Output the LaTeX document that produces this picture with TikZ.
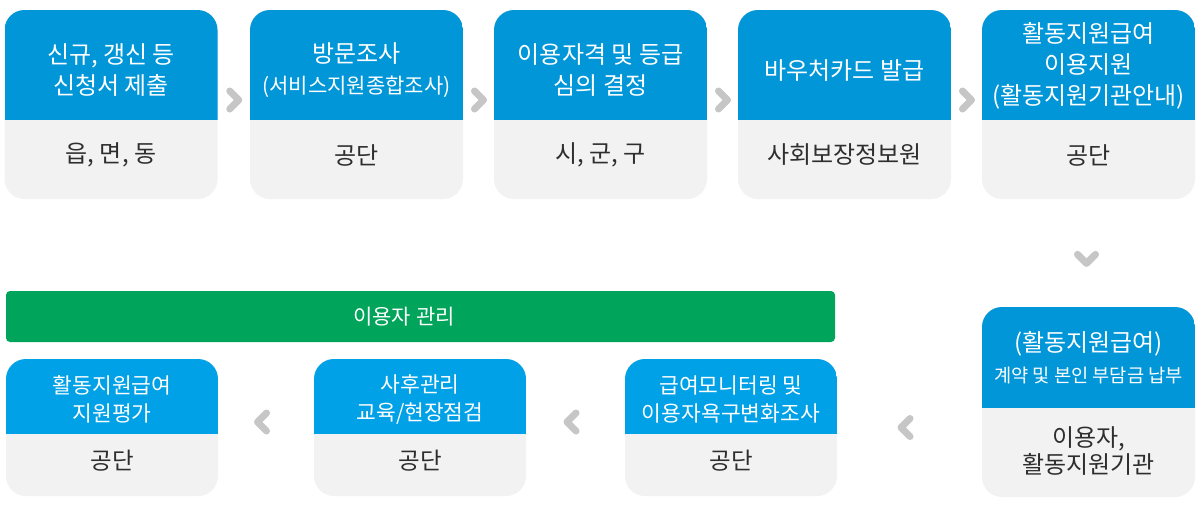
\documentclass[tikz,border=0pt]{standalone}
\usepackage{fontspec}
\setmainfont{Noto Sans CJK KR}
\usetikzlibrary{calc}
\definecolor{topblue}{HTML}{0096D8}
\definecolor{lowblue}{HTML}{00A1E6}
\definecolor{cardgray}{HTML}{F2F2F2}
\definecolor{txtdark}{HTML}{2E2E2E}
\definecolor{mgreen}{HTML}{00A45A}
\definecolor{chevgray}{HTML}{C6C6C6}
\tikzset{
  card/.style n args={3}{draw=none, fill=cardgray, rounded corners=20pt,
    minimum width=#1, minimum height=#2, inner sep=0pt,
    path picture={\fill[topblue, sharp corners] (path picture bounding box.north west) rectangle
      ([yshift=-#3]path picture bounding box.north east);}},
  lowcard/.style n args={3}{draw=none, fill=cardgray, rounded corners=20pt,
    minimum width=#1, minimum height=#2, inner sep=0pt,
    path picture={\fill[lowblue, sharp corners] (path picture bounding box.north west) rectangle
      ([yshift=-#3]path picture bounding box.north east);}},
  ttl/.style={text=white, align=center, inner sep=0pt, font=\fontsize{24}{31}\selectfont},
  lttl/.style={text=white, align=center, inner sep=0pt, font=\fontsize{21.5}{28}\selectfont},
  sub/.style={text=txtdark, align=center, inner sep=0pt, font=\fontsize{24}{27}\selectfont},
  chevline/.style={draw=chevgray, line width=7pt, line join=round, line cap=round},
  chevR/.pic={\draw[chevline] (-4,-9) -- (5,0) -- (-4,9);},
  chevL/.pic={\draw[chevline] (4,-9) -- (-5,0) -- (4,9);},
  chevD/.pic={\draw[chevline] (-9,-4) -- (0,5) -- (9,-4);},
}
\begin{document}
\begin{tikzpicture}[x=1pt,y=-1pt]
\useasboundingbox[fill=white] (0,0) rectangle (1200,506);
% top row
\node[card={213pt}{189pt}{110pt}] (b1) at (111,104.5) {};
\node[card={213pt}{189pt}{110pt}] (b2) at (356.5,104.5) {};
\node[card={213pt}{189pt}{110pt}] (b3) at (600.5,104.5) {};
\node[card={213pt}{189pt}{110pt}] (b4) at (844.5,104.5) {};
\node[card={213pt}{189pt}{110pt}] (b5) at (1088.5,104.5) {};
\node[ttl] (b1t) at (111,70) {신규, 갱신 등\\신청서 제출};
\node[ttl] (b2t) at (356.5,70) {방문조사\\\fontsize{21}{31}\selectfont(서비스지원종합조사)};
\node[ttl] (b3t) at (600.5,70) {이용자격 및 등급\\심의 결정};
\node[ttl] (b4t) at (844.5,71) {바우처카드 발급};
\node[ttl] (b5t) at (1088.5,66) {활동지원급여\\이용지원\\(활동지원기관안내)};
\node[sub] (b1s) at (111,155) {읍, 면, 동};
\node[sub] (b2s) at (356.5,155) {공단};
\node[sub] (b3s) at (600.5,155) {시, 군, 구};
\node[sub] (b4s) at (844.5,155) {사회보장정보원};
\node[sub] (b5s) at (1088.5,155) {공단};
% right box
\node[card={213pt}{190pt}{101pt}] (r) at (1088.5,402) {};
\node[ttl] (rt1) at (1088.5,344) {(활동지원급여)};
\node[text=white, inner sep=0pt, font=\fontsize{18.7}{22}\selectfont] (rt2) at (1088.5,375) {계약 및 본인 부담금 납부};
\node[sub] (rs) at (1088.5,451.5) {이용자,\\활동지원기관};
% management bar
\node[fill=mgreen, rounded corners=4pt, minimum width=829pt, minimum height=51pt, inner sep=0pt] (mg) at (420.5,316.5) {};
\node[text=white, inner sep=0pt, font=\fontsize{21}{24}\selectfont] (mgt) at (404,316.5) {이용자 관리};
% bottom row
\node[lowcard={212pt}{137pt}{75pt}] (c1) at (112,427.5) {};
\node[lowcard={212pt}{137pt}{75pt}] (c2) at (420,427.5) {};
\node[lowcard={212pt}{137pt}{75pt}] (c3) at (731,427.5) {};
\node[lttl] (c1t) at (112,399) {활동지원급여\\지원평가};
\node[lttl] (c2t) at (420,399) {사후관리\\교육/현장점검};
\node[lttl] (c3t) at (731,399) {급여모니터링 및\\이용자욕구변화조사};
\node[sub, font=\fontsize{23.5}{27}\selectfont] (c1s) at (112,461) {공단};
\node[sub, font=\fontsize{23.5}{27}\selectfont] (c2s) at (420,461) {공단};
\node[sub, font=\fontsize{23.5}{27}\selectfont] (c3s) at (731,461) {공단};
% chevrons
\path ($(b1.east)!0.5!(b2.west)$) coordinate (k12);
\path ($(b2.east)!0.5!(b3.west)$) coordinate (k23);
\path ($(b3.east)!0.5!(b4.west)$) coordinate (k34);
\path ($(b4.east)!0.5!(b5.west)$) coordinate (k45);
\pic at ([yshift=4.5pt]k12) {chevR};
\pic at ([yshift=4.5pt]k23) {chevR};
\pic at ([yshift=4.5pt]k34) {chevR};
\pic at ([yshift=4.5pt]k45) {chevR};
\path ($(b5.south)!0.55!(r.north)$) coordinate (k5r);
\pic at ([xshift=-2pt]k5r) {chevD};
\path ($(r.west)!0.5!(c3.east)$) coordinate (krc);
\path ($(c3.west)!0.5!(c2.east)$) coordinate (k32);
\path ($(c2.west)!0.5!(c1.east)$) coordinate (k21);
\pic at ([xshift=-3.5pt]krc |- c3.center) {chevL};
\pic at ([xshift=-3.5pt,yshift=5.5pt]k32) {chevL};
\pic at ([xshift=-3.5pt,yshift=5.5pt]k21) {chevL};
\end{tikzpicture}
\end{document}
